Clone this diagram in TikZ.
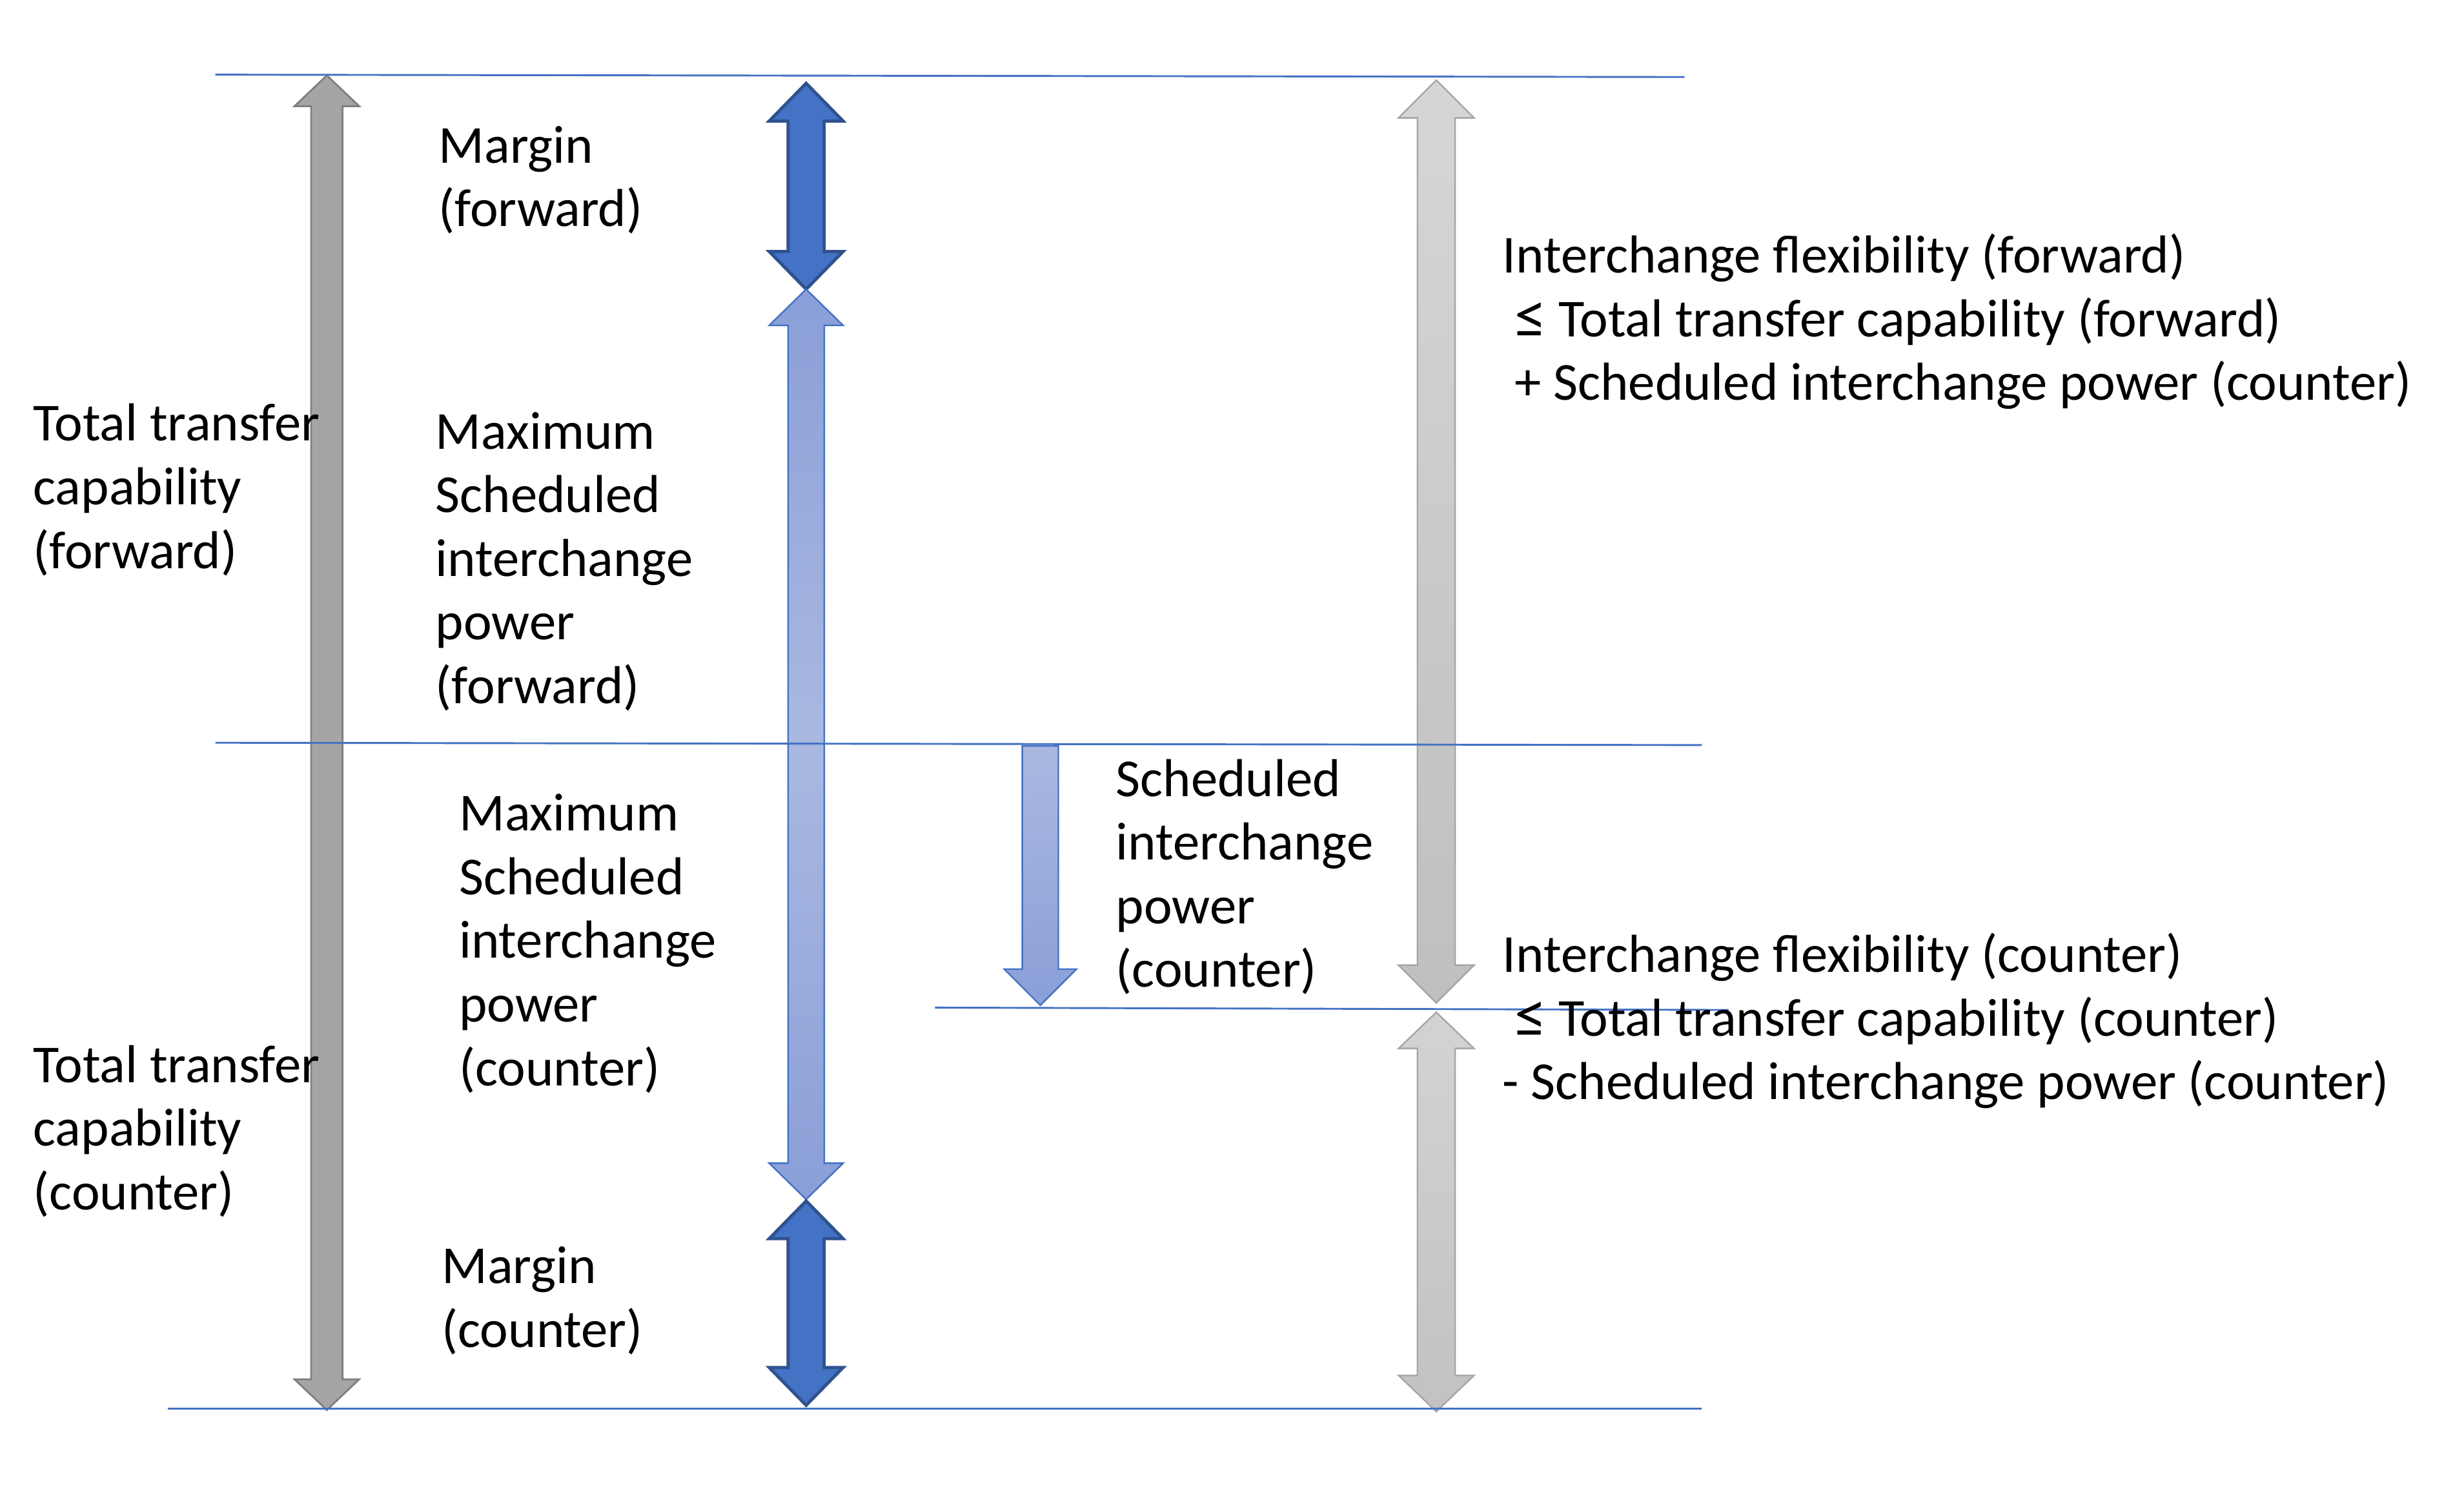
\documentclass[tikz,border=0pt]{standalone}
\usepackage{fontspec}
\setmainfont{Carlito}
\usepackage{tikz}
\usetikzlibrary{shadings}
\definecolor{lineblue}{HTML}{4472C4}
\definecolor{marginblue}{HTML}{4472C4}
\definecolor{marginedge}{HTML}{2F528F}
\definecolor{maxend}{HTML}{8A9FD8}
\definecolor{maxmid}{HTML}{AAB9E1}
\definecolor{ttcgrey}{HTML}{A5A5A5}
\definecolor{ttcedge}{HTML}{808080}
\definecolor{flextop}{HTML}{D6D6D6}
\definecolor{flexbot}{HTML}{BFBFBF}
\definecolor{flexlowtop}{HTML}{D3D3D3}
\definecolor{flexlowbot}{HTML}{C2C2C2}
\definecolor{flexedge}{HTML}{A6A6A6}
\tikzstyle{level}=[draw=lineblue,line width=1.2pt]
\tikzstyle{ttcarrow}=[fill=ttcgrey,draw=ttcedge,line width=1.2pt]
\tikzstyle{marginarrow}=[fill=marginblue,draw=marginedge,line width=2pt]
\tikzstyle{maxarrow}=[top color=maxend,bottom color=maxend,middle color=maxmid,draw=lineblue,line width=1pt]
\tikzstyle{scharrow}=[top color=maxmid,bottom color=maxend,draw=lineblue,line width=1pt]
\tikzstyle{flexarrow}=[top color=flextop,bottom color=flexbot,draw=flexedge,line width=1pt]
\tikzstyle{flexarrowlow}=[top color=flexlowtop,bottom color=flexlowbot,draw=flexedge,line width=1pt]
\tikzstyle{lbl}=[anchor=north west,inner sep=0pt,align=left,font=\fontsize{34}{40.5}\selectfont]
\newcommand{\bigleq}{\raisebox{-1pt}{\scalebox{1.2}{≤}}}
% style, x, top tip, bottom tip, half shaft, half head, head length
\newcommand{\dblarrow}[7]{%
  \draw[#1] (#2,#3) -- (#2+#6,#3+#7) -- (#2+#5,#3+#7) -- (#2+#5,#4-#7) -- (#2+#6,#4-#7)
    -- (#2,#4) -- (#2-#6,#4-#7) -- (#2-#5,#4-#7) -- (#2-#5,#3+#7) -- (#2-#6,#3+#7) -- cycle;}

\begin{document}
\begin{tikzpicture}[x=1pt,y=-1pt]
        \useasboundingbox (0,0) rectangle (1568,961);
        % arrows
        \dblarrow{ttcarrow}{208}{48}{897}{10}{20.5}{19.5}
        \dblarrow{marginarrow}{513}{53}{184}{11.5}{23.5}{24}
        \dblarrow{maxarrow}{513}{184}{763}{11.5}{23.5}{23}
        \dblarrow{marginarrow}{513}{764}{894}{11.5}{23.5}{24}
        \draw[scharrow] (662-11.5,474.5) -- (662+11.5,474.5) -- (662+11.5,616.5) -- (662+23,616.5)
          -- (662,639.5) -- (662-23,616.5) -- (662-11.5,616.5) -- cycle;
        \dblarrow{flexarrow}{914}{51}{638}{12}{24}{24}
        \dblarrow{flexarrowlow}{914}{644}{898}{12}{24}{23}
        % levels
        \coordinate (top1) at (137,47.5);
        \coordinate (top2) at (1072,49);
        \coordinate (mid1) at (137,472.5);
        \coordinate (mid2) at (1083,474);
        \coordinate (sch1) at (595,641);
        \coordinate (sch2) at (1100,642.5);
        \coordinate (bot1) at (107,896);
        \coordinate (bot2) at (1083,896);
        \draw[level] (top1) -- (top2);
        \draw[level] (mid1) -- (mid2);
        \draw[level] (sch1) -- (sch2);
        \draw[level] (bot1) -- (bot2);
        % labels
        \node[lbl] (margF) at (279,75) {\strut Margin\\(forward)};
        \node[lbl] (ttcF) at (21,252) {\strut Total transfer\\capability\\(forward)};
        \node[lbl] (maxF) at (277,257) {\strut Maximum\\Scheduled\\interchange\\power\\(forward)};
        \node[lbl] (maxC) at (292,500) {\strut Maximum\\Scheduled\\interchange\\power\\(counter)};
        \node[lbl] (schC) at (710,478) {\strut Scheduled\\interchange\\power\\(counter)};
        \node[lbl] (ttcC) at (21,660) {\strut Total transfer\\capability\\(counter)};
        \node[lbl] (margC) at (281,788) {\strut Margin\\(counter)};
        \node[lbl] (flexF) at (956,145) {\strut Interchange flexibility (forward)\\\ \bigleq\ Total transfer capability (forward)\\\ + Scheduled interchange power (counter)};
        \node[lbl] (flexC) at (956,590) {\strut Interchange flexibility (counter)\\\ \bigleq\ Total transfer capability (counter)\\- Scheduled interchange power (counter)};
      \end{tikzpicture}
\end{document}
